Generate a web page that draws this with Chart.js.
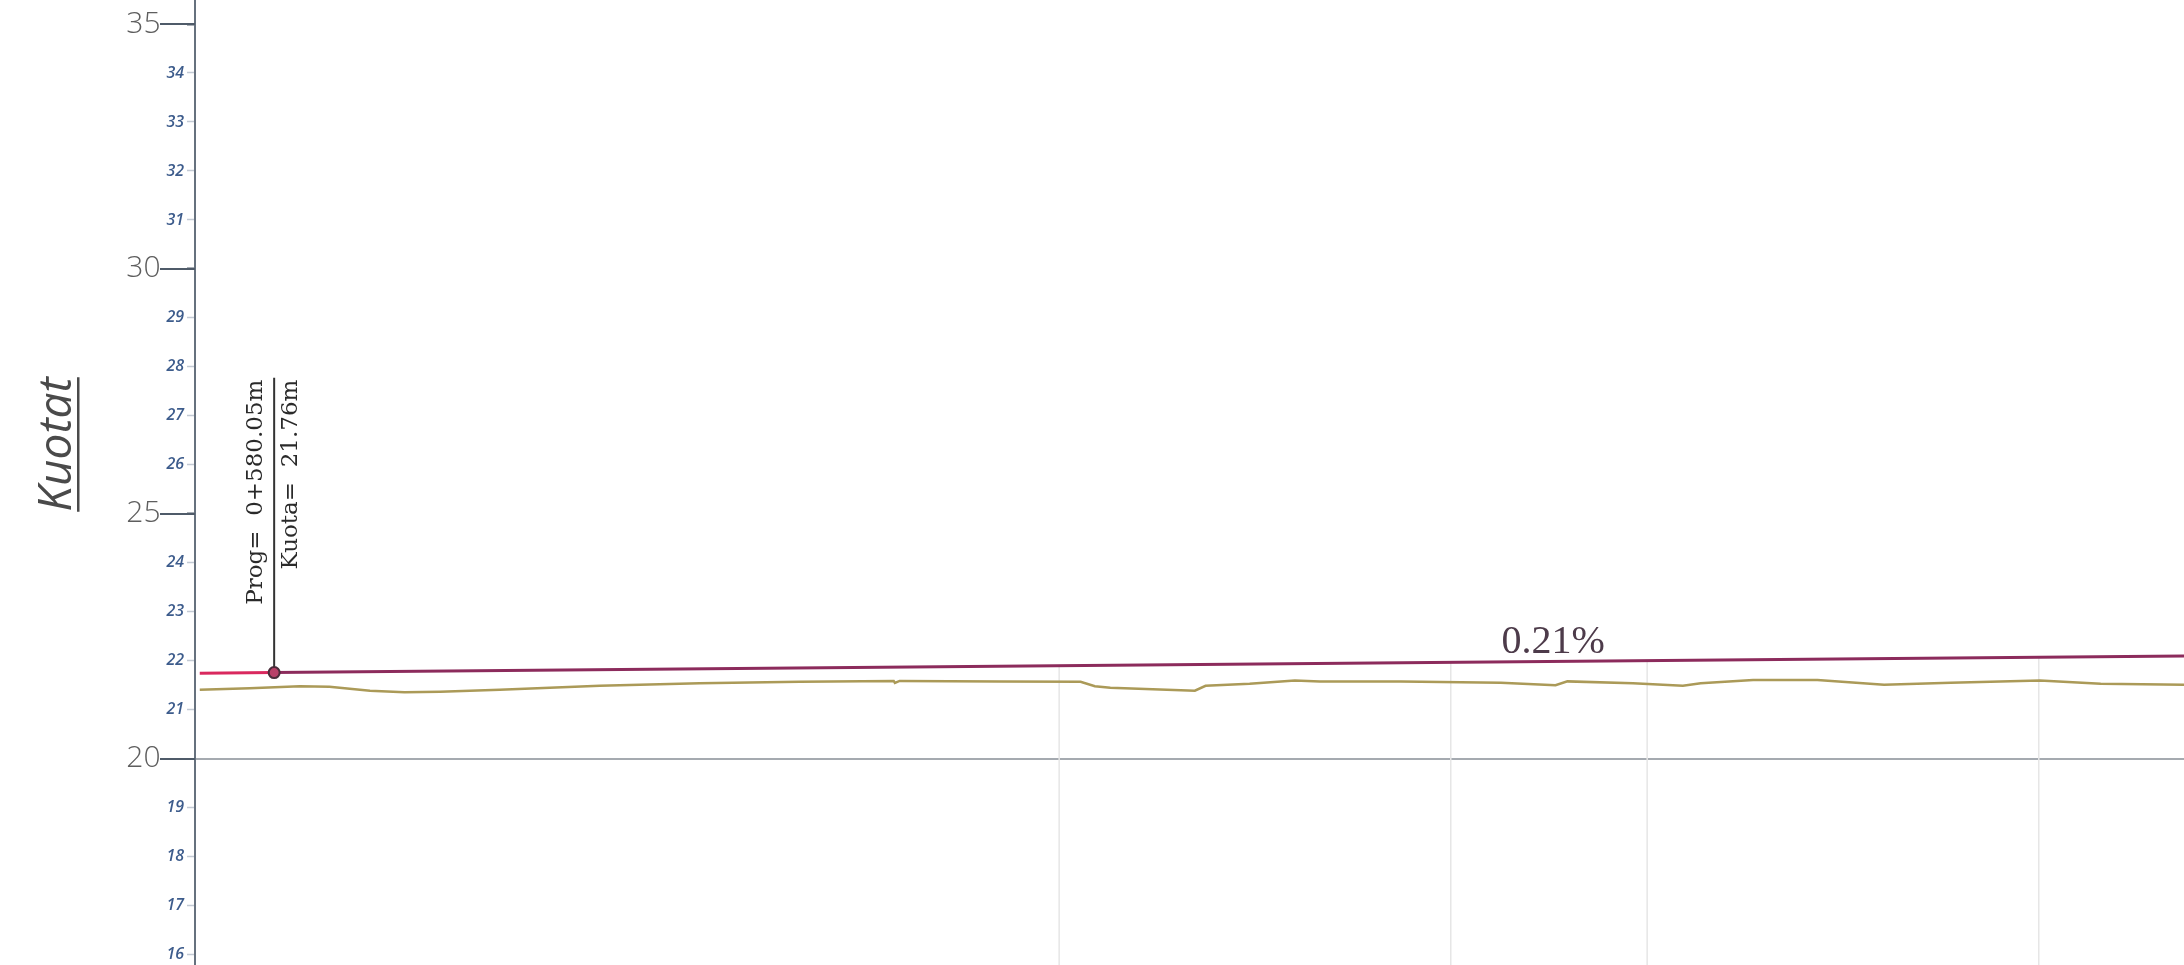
<!DOCTYPE html>
<html>
<head>
<meta charset="utf-8">
<title>Profili gjatësor</title>
<script src="https://cdn.jsdelivr.net/npm/chart.js@4.4.1/dist/chart.umd.min.js"></script>
<style>
  html,body{margin:0;padding:0;background:#fff;}
  #wrap{position:relative;width:2184px;height:965px;}
</style>
</head>
<body>
<div id="wrap"><canvas id="profil"></canvas></div>
<script>
(function(){
  'use strict';

  // Terreni (progresiva m, kuota m)
  const groundX = [573.8, 578.0, 582.2, 584.7, 588.1, 591.0, 594.0, 599.0, 607.4, 615.8, 624.2, 632.1, 632.2, 632.6,
                   641.0, 647.8, 649.0, 650.3, 657.4, 658.3, 662.0, 665.8, 667.9, 674.7, 683.1, 687.7, 688.7,
                   694.2, 698.4, 699.9, 704.3, 709.7, 715.3, 720.9, 728.4, 733.5, 740.5];
  const groundY = [21.41, 21.44, 21.48, 21.47, 21.39, 21.36, 21.37, 21.41, 21.49, 21.54, 21.57, 21.59, 21.55, 21.59,
                   21.58, 21.57, 21.48, 21.45, 21.39, 21.49, 21.53, 21.60, 21.58, 21.58, 21.55, 21.50, 21.58,
                   21.54, 21.49, 21.54, 21.61, 21.61, 21.51, 21.55, 21.60, 21.53, 21.51];

  // Niveleta (pjerrësia 0.21%)
  const gradeX = [573.8, 580.05, 740.5];
  const gradeY = [21.747, 21.76, 22.097];

  // Profilet tërthore
  const stations = [646.0, 678.9, 695.4, 728.3];

  const yTicks = [16, 17, 18, 19, 20, 21, 22, 23, 24, 25, 26, 27, 28, 29, 30, 31, 32, 33, 34, 35];

  const X_MIN = 573.4, X_MAX = 740.5;
  const Y_MIN = 15.79, Y_MAX = 35.49;

  const progPoint = 580.05, kuotaPoint = 21.76, calloutTop = 27.78;
  const slopeText = '0.21%', slopeAt = 687.5;

  const pts = (xs, ys) => xs.map((x, i) => ({x, y: ys[i]}));
  function gradeAt(v){
    for(let i=1;i<gradeX.length;i++){
      if(v<=gradeX[i]){
        const t=(v-gradeX[i-1])/(gradeX[i]-gradeX[i-1]);
        return gradeY[i-1]+t*(gradeY[i]-gradeY[i-1]);
      }
    }
    return gradeY[gradeY.length-1];
  }
  function fmtProg(m){
    const km=Math.floor(m/1000);
    return km+'+'+(m-km*1000).toFixed(2).padStart(6,'0');
  }
  const isMajor = v => v%5===0;

  const decor = {
    id:'profileDecor',
    afterDraw(chart){
      const {ctx, chartArea, scales:{x, y}} = chart;
      ctx.save();

      // vijat e gjata te kuotave te plota
      ctx.strokeStyle='#4f5b69'; ctx.lineWidth=2;
      yTicks.filter(isMajor).forEach(v=>{
        const py=Math.round(y.getPixelForValue(v));
        ctx.beginPath(); ctx.moveTo(chartArea.left-35, py); ctx.lineTo(chartArea.left, py); ctx.stroke();
      });

      // titulli i boshtit
      ctx.save();
      ctx.translate(71, (chartArea.top+chartArea.bottom)/2-38);
      ctx.rotate(-Math.PI/2);
      ctx.font='italic 46px "Open Sans", sans-serif';
      ctx.fillStyle='#4a4a4a'; ctx.textAlign='center'; ctx.textBaseline='alphabetic';
      ctx.fillText('Kuotat', 0, 0);
      const tw=ctx.measureText('Kuotat').width;
      ctx.fillRect(-tw/2, 6, tw, 2.5);
      ctx.restore();

      // shenimi i pikes
      const cx=x.getPixelForValue(progPoint), cy=y.getPixelForValue(calloutTop);
      ctx.save();
      ctx.translate(cx, cy+2);
      ctx.rotate(-Math.PI/2);
      ctx.font='23px "DejaVu Serif", serif';
      ctx.fillStyle='#2a2a2a'; ctx.textAlign='right'; ctx.textBaseline='alphabetic';
      ctx.fillText('Prog=  '+fmtProg(progPoint)+'m', 0, -12);
      ctx.fillText('Kuota=  '+kuotaPoint.toFixed(2)+'m', 0, 23);
      ctx.restore();

      // pjerresia
      ctx.font='40px "Liberation Serif", serif';
      ctx.fillStyle='#4d3b4a'; ctx.textAlign='center'; ctx.textBaseline='alphabetic';
      ctx.fillText(slopeText, x.getPixelForValue(slopeAt), y.getPixelForValue(gradeAt(slopeAt))-9);

      ctx.restore();
    }
  };

  const datasets = [
    {label:'pika', data:[{x:progPoint, y:kuotaPoint}], showLine:false, order:0,
     pointRadius:5.5, pointBackgroundColor:'#b84068', pointBorderColor:'#4a2c3a', pointBorderWidth:2},
    {label:'shenimi', data:[{x:progPoint, y:kuotaPoint},{x:progPoint, y:calloutTop}], order:1,
     borderColor:'#333', borderWidth:2, pointRadius:0},
    {label:'niveleta', data:pts(gradeX, gradeY), order:2, borderWidth:3, pointRadius:0,
     borderColor:'#8c2b5c',
     segment:{borderColor:c=>c.p0DataIndex===0 ? '#d9285e' : '#8c2b5c'}},
    {label:'terreni', data:pts(groundX, groundY), order:3, borderColor:'#ab9a58', borderWidth:2.5, pointRadius:0},
    ...stations.map(s=>({label:'profil '+s, data:[{x:s, y:Y_MIN},{x:s, y:gradeAt(s)}], order:5,
      borderColor:'#e6e6e6', borderWidth:1.5, pointRadius:0}))
  ];

  new Chart(document.getElementById('profil'), {
    type:'line',
    data:{datasets},
    options:{
      responsive:true, maintainAspectRatio:false, animation:false,
      layout:{padding:0, autoPadding:false},
      plugins:{legend:{display:false}, tooltip:{enabled:false}},
      elements:{line:{tension:0}},
      scales:{
        x:{type:'linear', min:X_MIN, max:X_MAX, display:false},
        y:{
          type:'linear', min:Y_MIN, max:Y_MAX,
          afterBuildTicks:s=>{ s.ticks=yTicks.map(v=>({value:v})); },
          afterFit:s=>{ s.width=195; s.paddingTop=0; s.paddingBottom=0; },
          border:{display:true, color:'#66717e', width:2},
          grid:{
            color:c=>c.tick && c.tick.value===20 ? '#a5aab0' : 'rgba(0,0,0,0)',
            lineWidth:c=>c.tick && c.tick.value===20 ? 2 : 1,
            tickLength:8,
            tickColor:c=>c.tick && isMajor(c.tick.value) ? '#4f5b69' : '#c3cad4',
            tickWidth:c=>c.tick && isMajor(c.tick.value) ? 2 : 1.5
          },
          ticks:{
            padding:3, autoSkip:false,
            callback:v=>isMajor(v) ? v+'   ' : String(v),
            font:c=>c.tick && isMajor(c.tick.value)
              ? {family:'"Open Sans", sans-serif', size:30, weight:'300'}
              : {family:'"Open Sans", sans-serif', size:16, style:'italic', weight:'600'},
            color:c=>c.tick && isMajor(c.tick.value) ? '#5e5e5e' : '#3d5c8c'
          }
        }
      }
    },
    plugins:[decor]
  });
})();
</script>
</body>
</html>
